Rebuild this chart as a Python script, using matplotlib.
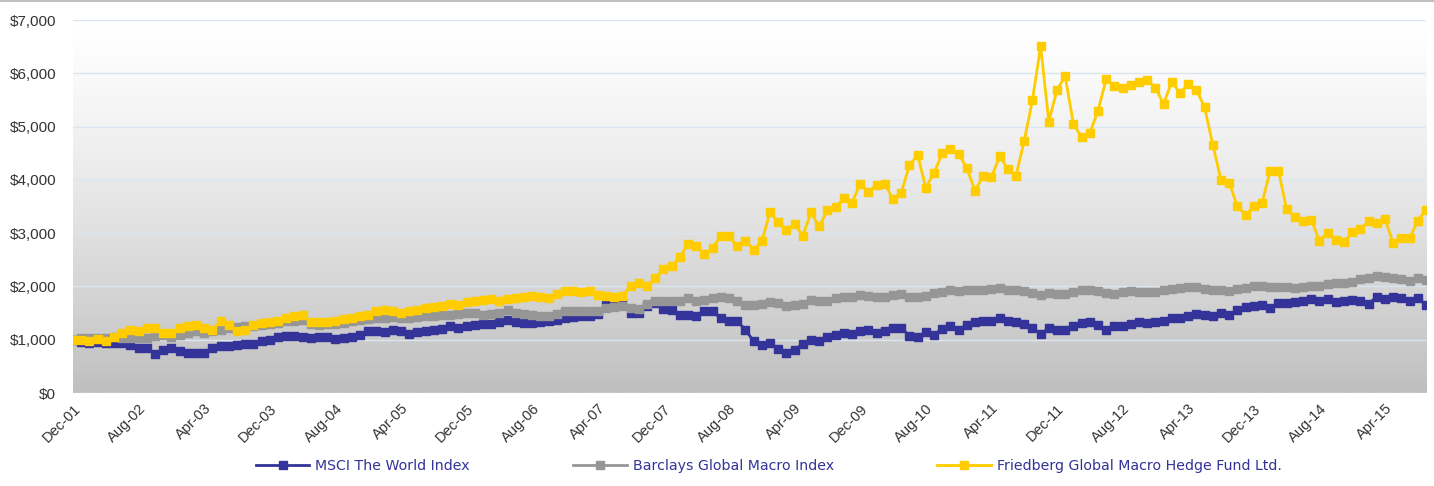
import numpy as np
import matplotlib.pyplot as plt
from matplotlib.lines import Line2D

# Monatliche Werte, Dez-01 bis Sep-15 (Start = $1,000)
msci = [
    1000, 960, 940, 950, 940, 940, 940, 905, 845, 845,
    740, 810, 845, 780, 760, 750, 750, 845, 875, 890,
    905, 925, 925, 970, 990, 1050, 1075, 1075, 1060, 1030,
    1050, 1060, 1010, 1030, 1060, 1095, 1155, 1155, 1140, 1175,
    1155, 1110, 1140, 1155, 1185, 1200, 1250, 1220, 1260, 1280,
    1300, 1300, 1325, 1375, 1325, 1310, 1310, 1325, 1345, 1375,
    1405, 1425, 1440, 1450, 1490, 1660, 1680, 1680, 1510, 1500,
    1640, 1680, 1575, 1550, 1470, 1470, 1440, 1530, 1530, 1405,
    1360, 1345, 1190, 970, 905, 940, 825, 760, 810, 925,
    990, 970, 1060, 1095, 1125, 1110, 1155, 1185, 1125, 1155,
    1220, 1220, 1075, 1050, 1140, 1095, 1205, 1250, 1190, 1280,
    1325, 1360, 1345, 1405, 1360, 1325, 1300, 1220, 1110, 1220,
    1190, 1175, 1250, 1310, 1325, 1280, 1175, 1250, 1260, 1300,
    1325, 1310, 1325, 1360, 1405, 1405, 1450, 1490, 1470, 1440,
    1500, 1470, 1560, 1610, 1640, 1655, 1590, 1690, 1690, 1700,
    1735, 1760, 1720, 1760, 1700, 1720, 1750, 1720, 1675, 1810,
    1760, 1800, 1780, 1735, 1780, 1655,
]

barclays = [
    1000, 1030, 1040, 1030, 1040, 1050, 1040, 1030, 1030, 1030,
    1075, 1095, 1060, 1095, 1125, 1155, 1125, 1155, 1185, 1220,
    1240, 1250, 1260, 1280, 1300, 1310, 1345, 1360, 1375, 1290,
    1280, 1290, 1300, 1310, 1345, 1375, 1390, 1405, 1405, 1425,
    1405, 1405, 1425, 1440, 1450, 1470, 1470, 1490, 1500, 1510,
    1470, 1490, 1500, 1550, 1500, 1490, 1470, 1450, 1440, 1490,
    1530, 1530, 1530, 1530, 1530, 1590, 1610, 1640, 1590, 1575,
    1675, 1720, 1720, 1720, 1735, 1780, 1735, 1750, 1780, 1795,
    1780, 1720, 1655, 1655, 1675, 1700, 1690, 1640, 1655, 1675,
    1750, 1720, 1735, 1780, 1800, 1800, 1845, 1825, 1800, 1810,
    1845, 1860, 1810, 1800, 1825, 1875, 1900, 1925, 1905, 1940,
    1925, 1940, 1950, 1970, 1940, 1925, 1905, 1875, 1845, 1875,
    1860, 1860, 1890, 1925, 1925, 1905, 1875, 1860, 1890, 1905,
    1890, 1890, 1890, 1925, 1950, 1970, 1990, 1990, 1950, 1925,
    1940, 1905, 1950, 1970, 2000, 2010, 1990, 1990, 1990, 1970,
    1990, 2010, 2010, 2050, 2060, 2060, 2090, 2135, 2155, 2190,
    2175, 2155, 2135, 2110, 2155, 2125,
]

friedberg = [
    1000, 1000, 970, 1010, 970, 1060, 1125, 1190, 1160, 1220,
    1220, 1125, 1125, 1220, 1250, 1280, 1220, 1190, 1345, 1280,
    1160, 1190, 1280, 1310, 1325, 1345, 1400, 1450, 1470, 1325,
    1325, 1325, 1345, 1390, 1400, 1440, 1470, 1530, 1550, 1530,
    1510, 1530, 1550, 1590, 1610, 1625, 1675, 1660, 1700, 1735,
    1750, 1760, 1720, 1760, 1780, 1810, 1825, 1810, 1790, 1860,
    1905, 1905, 1890, 1920, 1845, 1825, 1810, 1825, 2010, 2060,
    2010, 2155, 2325, 2375, 2560, 2795, 2760, 2605, 2720, 2950,
    2940, 2750, 2860, 2690, 2845, 3390, 3200, 3060, 3175, 2950,
    3390, 3125, 3425, 3490, 3655, 3575, 3925, 3780, 3905, 3925,
    3640, 3760, 4270, 4470, 3855, 4125, 4500, 4580, 4490, 4220,
    3795, 4075, 4050, 4440, 4205, 4075, 4730, 5490, 6510, 5095,
    5690, 5940, 5050, 4800, 4875, 5300, 5890, 5765, 5720, 5780,
    5845, 5875, 5730, 5425, 5845, 5625, 5800, 5690, 5360, 4655,
    4000, 3950, 3500, 3345, 3500, 3560, 4175, 4175, 3450, 3310,
    3220, 3250, 2860, 3010, 2875, 2825, 3030, 3075, 3220, 3190,
    3265, 2810, 2905, 2905, 3235, 3440,
]

tick_labels = ['Dec-01', 'Aug-02', 'Apr-03', 'Dec-03', 'Aug-04', 'Apr-05',
               'Dec-05', 'Aug-06', 'Apr-07', 'Dec-07', 'Aug-08', 'Apr-09',
               'Dec-09', 'Aug-10', 'Apr-11', 'Dec-11', 'Aug-12', 'Apr-13',
               'Dec-13', 'Aug-14', 'Apr-15']

series = [
    ('MSCI The World Index', msci, '#333399'),
    ('Barclays Global Macro Index', barclays, '#969696'),
    ('Friedberg Global Macro Hedge Fund Ltd.', friedberg, '#FFCC00'),
]

plt.rcParams['font.family'] = ['Liberation Sans', 'DejaVu Sans']

fig = plt.figure(figsize=(14.34, 4.86), dpi=100)
ax = fig.add_axes([73 / 1434, 93 / 486, 1353 / 1434, 373 / 486])

n = len(msci)
x = np.arange(n)

# Hintergrund: Verlauf von weiss (oben) nach grau (unten)
t = np.linspace(0, 1, 256)[:, None]
shade = 1 - (64 / 255) * t ** 1.3
ax.imshow(np.dstack([shade, shade, shade]), extent=[0, n - 1, 0, 7000],
          origin='upper', aspect='auto', zorder=0)

for name, vals, col in series:
    ax.plot(x, vals, color=col, lw=2, marker='s', ms=6.3, mec=col, mfc=col,
            label=name, zorder=3)

ax.set_xlim(0, n - 1)
ax.set_ylim(0, 7000)
ax.set_yticks(np.arange(0, 7001, 1000))
ax.set_yticklabels(['${:,}'.format(v) for v in range(0, 7001, 1000)])
ax.set_xticks(np.arange(0, n, 8))
ax.set_xticklabels(tick_labels, rotation=45, ha='right', rotation_mode='anchor')
ax.grid(axis='y', color='#dbe5f0', lw=1)
for s in ax.spines.values():
    s.set_visible(False)
ax.tick_params(length=0, labelsize=10.5, labelcolor='#333333')
ax.tick_params(axis='y', pad=12, labelsize=11)
ax.tick_params(axis='x', pad=6)
for gl in ax.get_ygridlines():
    gl.set_zorder(1)

fig.add_artist(Line2D([0, 1], [0.998, 0.998], color='#bfbfbf', lw=1.5))

leg = fig.legend(loc='center', bbox_to_anchor=(0.536, 0.041), ncol=3,
                 frameon=False, handlelength=3.8, columnspacing=7.3,
                 handletextpad=0.4,
                 prop={'family': 'DejaVu Sans', 'size': 10.2})
for txt in leg.get_texts():
    txt.set_color('#333399')

fig.savefig('out.png', dpi=100)
